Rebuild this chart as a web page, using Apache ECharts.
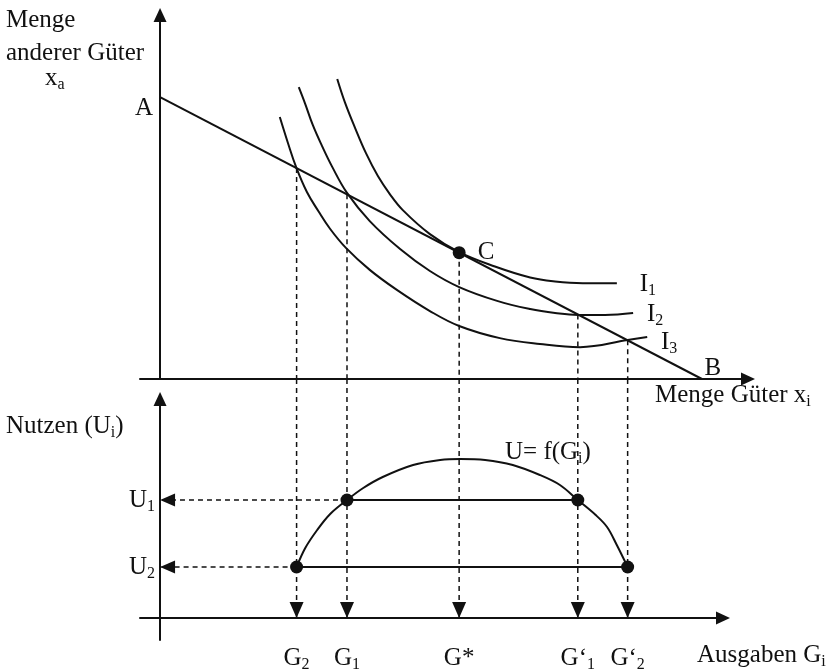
<!DOCTYPE html>
<html><head><meta charset="utf-8">
<script src="https://cdn.jsdelivr.net/npm/echarts@6/dist/echarts.min.js"></script>
<style>html,body{margin:0;padding:0;background:#fff}#c{width:829px;height:671px}</style>
</head><body><div id="c"></div>
<script>
// ---------- data ----------
// Budget line A -> B  (x_i, x_a)
const budgetX = [0, 10];
const budgetY = [10, 0];
// Indifference curves I1 (tangent at C), I2, I3
const i1X = [3.27, 3.41, 3.60, 3.80, 4.02, 4.24, 4.48, 4.98, 5.52, 6.18, 6.83, 7.29, 7.80, 8.43];
const i1Y = [10.64, 9.82, 8.90, 8.01, 7.20, 6.56, 5.99, 5.14, 4.50, 3.99, 3.60, 3.46, 3.40, 3.40];
const i2X = [2.56, 2.68, 2.82, 2.99, 3.17, 3.45, 3.87, 4.43, 4.98, 5.52, 6.22, 6.83, 7.29, 7.71, 8.21, 8.73];
const i2Y = [10.35, 9.75, 9.00, 8.26, 7.55, 6.60, 5.60, 4.61, 3.83, 3.26, 2.77, 2.48, 2.34, 2.27, 2.27, 2.34];
const i3X = [2.21, 2.36, 2.51, 2.71, 2.92, 3.14, 3.43, 3.87, 4.37, 4.98, 5.52, 6.27, 7.01, 7.75, 8.63, 8.99];
const i3Y = [9.29, 8.37, 7.52, 6.63, 5.96, 5.32, 4.65, 3.87, 3.16, 2.41, 1.88, 1.45, 1.24, 1.13, 1.38, 1.49];
const curveLabels = ['{m|I}{s|1}', '{m|I}{s|2}', '{m|I}{s|3}'];
// Optimum C
const optimumX = [5.52];
const optimumY = [4.48];
const pointLabels = ['A', 'B', 'C'];
// Expenditure levels G2, G1, G*, G'1, G'2 and their points on the budget line
const gValues = [2.52, 3.45, 5.52, 7.71, 8.63];
const gBudgetY = [7.48, 6.55, 4.48, 2.29, 1.37];
const gLabels = ['{m|G}{s|2}', '{m|G}{s|1}', '{m|G*}', '{m|G‘}{s|1}', '{m|G‘}{s|2}'];
// Utility curve U = f(G_i)
const uX = [2.52, 2.68, 2.90, 3.14, 3.45, 3.75, 4.11, 4.67, 5.17, 5.54, 6.00, 6.51, 7.01, 7.38, 7.71, 8.04, 8.25, 8.43, 8.63];
const uY = [5.1, 7.0, 8.8, 10.4, 11.8, 13.0, 14.1, 15.3, 15.8, 15.9, 15.8, 15.3, 14.3, 13.3, 11.8, 10.3, 9.1, 7.3, 5.1];
// Utility levels U1, U2
const uLevels = [11.8, 5.1];
const uLabels = ['{m|U}{s|1}', '{m|U}{s|2}'];
const uFrom = [3.45, 2.52];   // G1, G2
const uTo = [7.71, 8.63];     // G'1, G'2
// Texts
const yTitleUpper = ['Menge', 'anderer Güter', '{m|x}{s|a}'];
const xTitleUpper = '{m|Menge Güter x}{s|i}';
const yTitleLower = '{m|Nutzen (U}{s|i}{m|)}';
const xTitleLower = '{m|Ausgaben G}{s|i}';
const curveTitle = '{m|U= f(G}{s|i}{m|)}';

// ---------- styling ----------
const INK = '#111';
const FONT = '"Liberation Serif","Times New Roman",serif';
const rich = {
  m: {fontSize: 25, fontFamily: FONT, color: INK, lineHeight: 29},
  s: {fontSize: 16, fontFamily: FONT, color: INK, lineHeight: 16, verticalAlign: 'bottom'}
};
const solid = {color: INK, width: 2};
const dashed = {color: INK, width: 1.5, type: [5, 4]};
const axisArrow = {show: true, onZero: true, symbol: ['none', 'triangle'], symbolSize: [13, 14],
  lineStyle: {color: INK, width: 2}};
const hiddenBits = {axisTick: {show: false}, splitLine: {show: false}};
const zip = (a, b) => a.map((v, i) => [v, b[i]]);
const pick = (vals, labels) => (v) => {
  let best = 0;
  vals.forEach((x, i) => { if (Math.abs(x - v) < Math.abs(vals[best] - v)) best = i; });
  return labels[best];
};

const series = [];
const line = (data, style, grid, extra) => series.push(Object.assign({
  type: 'line', xAxisIndex: grid, yAxisIndex: grid, data, symbol: 'none',
  lineStyle: style, silent: true, animation: false
}, extra || {}));

// upper panel
line(zip(budgetX, budgetY), solid, 0);
[[i1X, i1Y], [i2X, i2Y], [i3X, i3Y]].forEach(([x, y]) => line(zip(x, y), solid, 0, {smooth: 0.4}));
gValues.forEach((g, i) => line([[g, gBudgetY[i]], [g, 0]], dashed, 0));
// lower panel
gValues.forEach((g) => line([[g, 23.9], [g, 0]], dashed, 1, {clip: false}));
line(zip(uX, uY), solid, 1, {smooth: 0.35});
uLevels.forEach((u, i) => line([[uFrom[i], u], [uTo[i], u]], solid, 1));
uLevels.forEach((u, i) => line([[uFrom[i], u], [0, u]], dashed, 1));

const solidMark = {color: INK, opacity: 1};
// arrow heads
series.push({type: 'scatter', xAxisIndex: 1, yAxisIndex: 1, silent: true, animation: false,
  symbol: 'triangle', symbolSize: [14, 16], symbolRotate: 180, symbolOffset: [0, -8],
  itemStyle: solidMark, data: gValues.map(g => [g, 0])});
series.push({type: 'scatter', xAxisIndex: 1, yAxisIndex: 1, silent: true, animation: false,
  symbol: 'triangle', symbolSize: [13, 15], symbolRotate: 90, symbolOffset: [7.5, 0],
  itemStyle: solidMark, data: uLevels.map(u => [0, u])});
// dots
series.push({type: 'scatter', xAxisIndex: 0, yAxisIndex: 0, silent: true, animation: false,
  symbolSize: 13, itemStyle: solidMark, data: zip(optimumX, optimumY)});
series.push({type: 'scatter', xAxisIndex: 1, yAxisIndex: 1, silent: true, animation: false,
  symbolSize: 13, itemStyle: solidMark,
  data: [[uFrom[0], uLevels[0]], [uTo[0], uLevels[0]], [uFrom[1], uLevels[1]], [uTo[1], uLevels[1]]]});
// text labels anchored to data points
const lab = (pt, text, offset) => ({value: pt,
  label: {show: true, position: 'inside', formatter: text, offset, rich, color: INK, opacity: 1}});
series.push({type: 'scatter', xAxisIndex: 0, yAxisIndex: 0, silent: true, animation: false,
  symbolSize: 1, itemStyle: {color: 'rgba(0,0,0,0)', opacity: 1},
  data: [
    lab([budgetX[0], budgetY[0]], '{m|' + pointLabels[0] + '}', [-16, 11]),
    lab([budgetX[1], budgetY[1]], '{m|' + pointLabels[1] + '}', [11, -11]),
    lab([optimumX[0], optimumY[0]], '{m|' + pointLabels[2] + '}', [27, 0]),
    lab([i1X[i1X.length - 1], i1Y[i1Y.length - 1]], curveLabels[0], [31, 1]),
    lab([i2X[i2X.length - 1], i2Y[i2Y.length - 1]], curveLabels[1], [22, 1]),
    lab([i3X[i3X.length - 1], i3Y[i3Y.length - 1]], curveLabels[2], [22, 5])
  ]});

const chart = echarts.init(document.getElementById('c'), null, {renderer: 'canvas'});
chart.setOption({
  backgroundColor: '#fff',
  animation: false,
  grid: [
    {left: 140, top: 15, width: 608, height: 364, outerBoundsMode: 'none', containLabel: false},
    {left: 140, top: 399, width: 583, height: 241, outerBoundsMode: 'none', containLabel: false}
  ],
  xAxis: [
    Object.assign({gridIndex: 0, type: 'value', min: -0.37, max: 10.85, axisLine: axisArrow,
      axisLabel: {show: false}}, hiddenBits),
    Object.assign({gridIndex: 1, type: 'value', min: -0.37, max: 10.39, axisLine: axisArrow,
      axisLabel: {show: true, customValues: gValues, margin: 4, formatter: pick(gValues, gLabels), rich}}, hiddenBits)
  ],
  yAxis: [
    Object.assign({gridIndex: 0, type: 'value', min: 0, max: 12.91, axisLine: axisArrow,
      axisLabel: {show: false}}, hiddenBits),
    Object.assign({gridIndex: 1, type: 'value', min: -2.2, max: 21.9, axisLine: axisArrow,
      axisLabel: {show: true, customValues: uLevels, margin: -15, formatter: pick(uLevels, uLabels), rich}}, hiddenBits)
  ],
  graphic: [
    {type: 'text', left: 6, top: 8, style: {text: yTitleUpper[0], font: '25px ' + FONT, fill: INK}},
    {type: 'text', left: 6, top: 41, style: {text: yTitleUpper[1], font: '25px ' + FONT, fill: INK}},
    {type: 'text', left: 45, top: 66, style: {text: yTitleUpper[2], rich, fill: INK}},
    {type: 'text', left: 655, top: 383, style: {text: xTitleUpper, rich, fill: INK}},
    {type: 'text', left: 6, top: 414, style: {text: yTitleLower, rich, fill: INK}},
    {type: 'text', left: 697, top: 643, style: {text: xTitleLower, rich, fill: INK}},
    {type: 'text', left: 505, top: 440, style: {text: curveTitle, rich, fill: INK}}
  ],
  series
});
</script></body></html>
